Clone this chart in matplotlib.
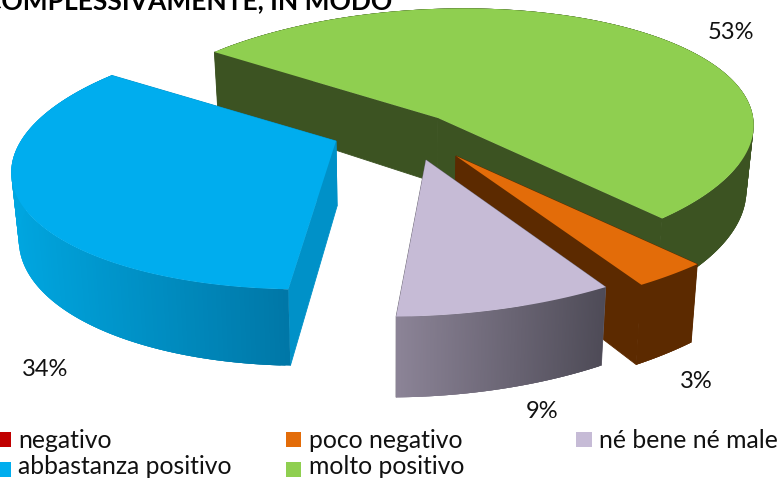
import numpy as np
import matplotlib
matplotlib.use("Agg")
import matplotlib.pyplot as plt
from matplotlib.patches import Rectangle
from matplotlib.colors import to_rgb

plt.rcParams['font.family'] = ['Lato', 'DejaVu Sans']

categories = ["negativo", "poco negativo", "né bene né male", "abbastanza positivo", "molto positivo"]
values = [0, 3, 9, 34, 53]
labels = ["", "3%", "9%", "34%", "53%"]
colors = ["#C00000", "#E36C09", "#C6BBD6", "#00ADEE", "#8FCF50"]
title = "COMPLESSIVAMENTE, IN MODO"

# projection parameters of the 3-D pie (pixels)
A, B, S, K, D = 320.0, 128.0, -30.0, 0.15, 66.0
START = 145.4
apex = {"molto positivo": (438, 118), "poco negativo": (456, 156),
        "né bene né male": (426, 160), "abbastanza positivo": (336, 141)}
scale = {"molto positivo": 0.985, "poco negativo": 1.06,
         "né bene né male": 1.04, "abbastanza positivo": 0.985}
rot = {"molto positivo": 0.0, "poco negativo": 0.0,
       "né bene né male": -0.4, "abbastanza positivo": -3.4}
side_col = {"molto positivo": ("#3C5322", "#3C5322"), "poco negativo": ("#5C2A00", "#5C2A00"),
            "né bene né male": ("#8C8497", "#4E4B57"), "abbastanza positivo": ("#00A6E0", "#0077A6")}
cut_col = {"molto positivo": "#3C5322", "poco negativo": "#5C2A00",
           "né bene né male": "#6A6572", "abbastanza positivo": "#0091C8"}
draw_order = ["molto positivo", "poco negativo", "né bene né male", "abbastanza positivo"]
clockwise = ["molto positivo", "poco negativo", "né bene né male", "abbastanza positivo", "negativo"]

# angles go clockwise from START
spans = {}
cur = START
for c in clockwise:
    v = values[categories.index(c)]
    spans[c] = (cur, cur - v * 3.6)
    cur -= v * 3.6


def project(theta, c, r=1.0):
    t = np.radians(theta + rot[c])
    X, Y = r * np.cos(t), -r * np.sin(t)
    w = 1 - K * Y
    s = scale[c]
    return apex[c][0] + s * (A * X + S * Y) / w, apex[c][1] + s * B * Y / w, s * D / w


def drop(x, y, d):
    return x + (390 - x) * 0.02, y + d


fig = plt.figure(figsize=(7.77, 4.79), dpi=100)
ax = fig.add_axes([0, 0, 1, 1])
ax.set_xlim(0, 777)
ax.set_ylim(479, 0)
ax.axis("off")

for c in draw_order:
    a0, a1 = spans[c]
    th = np.linspace(a0, a1, 160)
    x, y, d = project(th, c)
    xb, yb = drop(x, y, d)
    ax0, ay0 = apex[c]
    bx0, by0 = drop(ax0, ay0, D * scale[c])
    # cut faces
    for i in (0, -1):
        ax.fill([ax0, x[i], xb[i], bx0], [ay0, y[i], yb[i], by0], color=cut_col[c], lw=0.6, zorder=1)
    # outer rim, shaded left to right (quads overlap so no seams appear)
    c0, c1 = np.array(to_rgb(side_col[c][0])), np.array(to_rgb(side_col[c][1]))
    xmin, xmax = x.min(), x.max()
    for i in range(len(th) - 1):
        j = min(i + 3, len(th) - 1)
        f = ((x[i] + x[i + 1]) / 2 - xmin) / (xmax - xmin)
        ax.fill([x[i], x[j], xb[j], xb[i]], [y[i], y[j], yb[j], yb[i]],
                color=tuple(c0 + (c1 - c0) * f), lw=0, zorder=1)
    # top face
    col = colors[categories.index(c)]
    ax.fill(np.r_[ax0, x], np.r_[ay0, y], color=col, lw=0, zorder=1)

# data labels
label_pos = {"molto positivo": (731, 32), "poco negativo": (696, 381),
             "né bene né male": (542, 411), "abbastanza positivo": (45, 370)}
for c, l in zip(categories, labels):
    if l:
        ax.text(*label_pos[c], l, ha="center", va="center", fontsize=17, color="#111111", zorder=3)

# legend
legend_pos = [(0, 432, 11, 18, 448), (286, 432, 15, 309, 448), (576, 432, 16, 599, 448),
              (0, 462, 11, 18, 474), (286, 462, 15, 309, 474)]
for c, col, (lx, ly, lw_, tx, base) in zip(categories, colors, legend_pos):
    ax.add_patch(Rectangle((lx, ly), lw_, 15, color=col, lw=0, zorder=3))
    ax.text(tx, base, c, ha="left", va="baseline", fontsize=17.8, color="#111111", zorder=3)

ax.text(392, 9, title, ha="right", va="baseline", fontsize=19, fontweight="bold", color="black", zorder=3)

fig.savefig("out.png", dpi=100)
